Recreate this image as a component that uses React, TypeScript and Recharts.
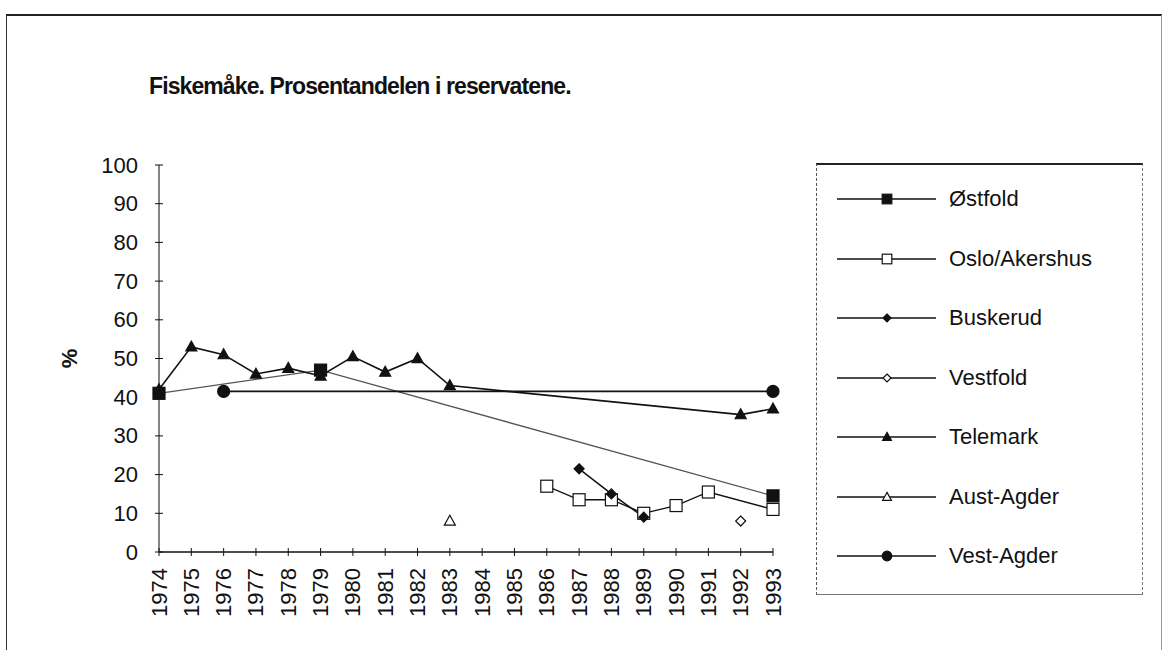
import React from "react";
import { Legend, Line, LineChart, XAxis, YAxis } from "recharts";

const FONT = "'Liberation Sans', Arial, Helvetica, sans-serif";
const INK = "#111";

const YEARS = [
  1974, 1975, 1976, 1977, 1978, 1979, 1980, 1981, 1982, 1983,
  1984, 1985, 1986, 1987, 1988, 1989, 1990, 1991, 1992, 1993,
];
const Y_TICKS = [0, 10, 20, 30, 40, 50, 60, 70, 80, 90, 100];

// verdier lest av figuren, null = ingen telling det året
const OSTFOLD = [41, null, null, null, null, 47, null, null, null, null, null, null, null, null, null, null, null, null, null, 14.5];
const OSLO_AKERSHUS = [null, null, null, null, null, null, null, null, null, null, null, null, 17, 13.5, 13.5, 10, 12, 15.5, null, 11];
const BUSKERUD = [null, null, null, null, null, null, null, null, null, null, null, null, null, 21.5, 15, 9, null, null, null, null];
const VESTFOLD = [null, null, null, null, null, null, null, null, null, null, null, null, null, null, null, null, null, null, 8, null];
const TELEMARK = [42, 53, 51, 46, 47.5, 45.5, 50.5, 46.5, 50, 43, null, null, null, null, null, null, null, null, 35.5, 37];
const AUST_AGDER = [null, null, null, null, null, null, null, null, null, 8, null, null, null, null, null, null, null, null, null, null];
const VEST_AGDER = [null, null, 41.5, null, null, null, null, null, null, null, null, null, null, null, null, null, null, null, null, 41.5];

type Shape = "square" | "diamond" | "triangle" | "circle";

const SERIES: { key: string; name: string; values: (number | null)[]; shape: Shape; filled: boolean; size: number; stroke: string; width: number }[] = [
  { key: "ostfold", name: "Østfold", values: OSTFOLD, shape: "square", filled: true, size: 12, stroke: "#555", width: 1.3 },
  { key: "oslo", name: "Oslo/Akershus", values: OSLO_AKERSHUS, shape: "square", filled: false, size: 12, stroke: INK, width: 1.3 },
  { key: "buskerud", name: "Buskerud", values: BUSKERUD, shape: "diamond", filled: true, size: 10, stroke: INK, width: 1.5 },
  { key: "vestfold", name: "Vestfold", values: VESTFOLD, shape: "diamond", filled: false, size: 10, stroke: INK, width: 1.3 },
  { key: "telemark", name: "Telemark", values: TELEMARK, shape: "triangle", filled: true, size: 11, stroke: INK, width: 1.6 },
  { key: "austagder", name: "Aust-Agder", values: AUST_AGDER, shape: "triangle", filled: false, size: 11, stroke: INK, width: 1.3 },
  { key: "vestagder", name: "Vest-Agder", values: VEST_AGDER, shape: "circle", filled: true, size: 12, stroke: INK, width: 1.6 },
];

const data = YEARS.map((year, i) => {
  const row: Record<string, number | null> = { year };
  for (const s of SERIES) row[s.key] = s.values[i];
  return row;
});

function Marker({ shape, filled, cx, cy, size }: { shape: Shape; filled: boolean; cx: number; cy: number; size: number }) {
  const fill = filled ? INK : "#fff";
  const h = size / 2;
  const common = { fill, stroke: INK, strokeWidth: 1.2 };
  if (shape === "square") return <rect x={cx - h} y={cy - h} width={size} height={size} {...common} />;
  if (shape === "diamond")
    return <polygon points={`${cx},${cy - h} ${cx + h},${cy} ${cx},${cy + h} ${cx - h},${cy}`} {...common} />;
  if (shape === "triangle")
    return <polygon points={`${cx},${cy - h * 1.05} ${cx + h},${cy + h * 0.75} ${cx - h},${cy + h * 0.75}`} {...common} />;
  return <circle cx={cx} cy={cy} r={h} {...common} />;
}

function XTick({ x, y, payload }: any) {
  const ty = y + 16;
  return (
    <g>
      <line x1={x} x2={x} y1={y - 4} y2={y + 4} stroke={INK} strokeWidth={1} />
      <text
        x={x}
        y={ty}
        transform={`rotate(-90 ${x} ${ty})`}
        textAnchor="end"
        dominantBaseline="central"
        fontSize={22}
        fontFamily={FONT}
        fill={INK}
      >
        {payload.value}
      </text>
    </g>
  );
}

function YTick({ x, y, payload }: any) {
  return (
    <g>
      <line x1={x - 4} x2={x + 4} y1={y} y2={y} stroke={INK} strokeWidth={1} />
      <text x={x - 21} y={y} textAnchor="end" dominantBaseline="central" fontSize={22} fontFamily={FONT} fill={INK}>
        {payload.value}
      </text>
    </g>
  );
}

function PercentLabel({ viewBox }: any) {
  const x = viewBox.x - 30;
  const y = viewBox.y + viewBox.height / 2;
  return (
    <text
      x={x}
      y={y}
      transform={`rotate(-90 ${x} ${y})`}
      textAnchor="middle"
      dominantBaseline="central"
      fontSize={22}
      fontWeight={700}
      fontFamily={FONT}
      fill={INK}
    >
      %
    </text>
  );
}

function LegendBox() {
  return (
    <div
      style={{
        position: "relative",
        width: 327,
        height: 432,
        boxSizing: "border-box",
        borderTop: "2px solid #222",
        borderLeft: "1px dashed #555",
        borderRight: "1px dashed #777",
        borderBottom: "1px solid #777",
        background: "#fff",
        fontFamily: FONT,
      }}
    >
      {SERIES.map((s, i) => (
        <div
          key={s.key}
          style={{ position: "absolute", left: 0, top: 34 + i * 59.5 - 15, height: 30, display: "flex", alignItems: "center" }}
        >
          <svg width={132} height={30} style={{ display: "block" }}>
            <line x1={20} x2={119} y1={15} y2={15} stroke={INK} strokeWidth={1.5} />
            <Marker shape={s.shape} filled={s.filled} cx={70} cy={15} size={s.size * 0.8} />
          </svg>
          <span style={{ fontSize: 22, color: INK, whiteSpace: "nowrap" }}>{s.name}</span>
        </div>
      ))}
    </div>
  );
}

export default function App() {
  return (
    <div
      style={{
        position: "absolute",
        left: 0,
        top: 0,
        width: 1169,
        height: 650,
        background: "#fff",
        overflow: "hidden",
        fontFamily: FONT,
      }}
    >
      <div
        style={{
          position: "absolute",
          left: 6,
          top: 14,
          width: 1154,
          height: 700,
          borderTop: "2px solid #222",
          borderLeft: "1.5px solid #333",
          borderRight: "1px solid #999",
        }}
      />
      <div
        style={{
          position: "absolute",
          left: 149,
          top: 73,
          fontSize: 23,
          fontWeight: 700,
          letterSpacing: -0.9,
          lineHeight: "26px",
          color: INK,
          whiteSpace: "nowrap",
        }}
      >
        Fiskemåke. Prosentandelen i reservatene.
      </div>
      <LineChart
        width={1169}
        height={650}
        data={data}
        margin={{ top: 165, right: 396, bottom: 8, left: 99 }}
        style={{ position: "absolute", left: 0, top: 0 }}
      >
        <XAxis
          dataKey="year"
          type="number"
          domain={[1974, 1993]}
          ticks={YEARS}
          interval={0}
          height={90}
          tickSize={0}
          tickMargin={0}
          tickLine={false}
          tick={<XTick />}
          axisLine={{ stroke: INK, strokeWidth: 1.5 }}
        />
        <YAxis
          type="number"
          domain={[0, 100]}
          ticks={Y_TICKS}
          interval={0}
          width={60}
          tickSize={0}
          tickMargin={0}
          tickLine={false}
          tick={<YTick />}
          axisLine={{ stroke: "#333", strokeWidth: 1.2 }}
          label={{ content: <PercentLabel /> }}
        />
        <Legend
          layout="horizontal"
          verticalAlign="middle"
          align="center"
          wrapperStyle={{ left: 816, top: 163, width: 327, height: 432 }}
          content={() => <LegendBox />}
        />
        {SERIES.map((s) => (
          <Line
            key={s.key}
            dataKey={s.key}
            name={s.name}
            type="linear"
            stroke={s.stroke}
            strokeWidth={s.width}
            connectNulls
            isAnimationActive={false}
            dot={(p: any) =>
              p.value == null || p.cy == null ? (
                <g key={`${s.key}-${p.index}`} />
              ) : (
                <Marker key={`${s.key}-${p.index}`} shape={s.shape} filled={s.filled} cx={p.cx} cy={p.cy} size={s.size} />
              )
            }
            activeDot={false}
          />
        ))}
      </LineChart>
    </div>
  );
}
